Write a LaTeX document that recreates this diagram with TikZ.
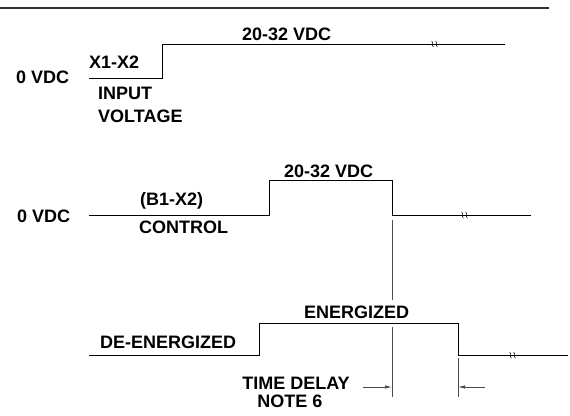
\documentclass[tikz,border=0pt]{standalone}
\usepackage{fontspec}
\setmainfont{Liberation Sans}
\usetikzlibrary{arrows.meta}
\tikzset{
  wave/.style={line width=0.9pt},
  guide/.style={line width=0.8pt, black!70},
  lbl/.style={font=\bfseries\fontsize{18}{18}\selectfont, inner sep=0pt, anchor=base west},
  brkmark/.pic={
    \draw[line width=0.5pt] (-3.5,-3) .. controls (-1,-2) and (-4,2) .. (-1.5,3);
    \draw[line width=0.5pt] (0.5,-3) .. controls (3,-2) and (0,2) .. (2.5,3);
  }
}
\begin{document}
\begin{tikzpicture}[x=1pt, y=-1pt]
  \useasboundingbox (0,0) rectangle (570,415);

  % frame rule
  \coordinate (ruleL) at (0,8);
  \coordinate (ruleR) at (549,8);
  \draw[line width=1.1pt, black!80] (ruleL) -- (ruleR);

  % input voltage
  \coordinate (inA) at (89,78);
  \coordinate (inB) at (162,78);
  \coordinate (inC) at (162,44);
  \coordinate (inD) at (505,44);
  \draw[wave] (inA) -- (inB) -- (inC) -- (inD);
  \pic at (435,44) {brkmark};
  \node[lbl] (inLow) at (16,83) {0 VDC};
  \node[lbl] (inTerm) at (89,68) {X1-X2};
  \node[lbl] (inName) at (98,99) {INPUT};
  \node[lbl] (inName2) at (98,122) {VOLTAGE};
  \node[lbl] (inHigh) at (242,40) {20-32 VDC};

  % control
  \coordinate (ctA) at (89,215);
  \coordinate (ctB) at (269,215);
  \coordinate (ctC) at (269,180);
  \coordinate (ctD) at (392,180);
  \coordinate (ctE) at (392,215);
  \coordinate (ctF) at (531,215);
  \draw[wave] (ctA) -- (ctB) -- (ctC) -- (ctD) -- (ctE) -- (ctF);
  \pic at (465,215) {brkmark};
  \node[lbl] (ctLow) at (17,222) {0 VDC};
  \node[lbl] (ctTerm) at (140,205) {(B1-X2)};
  \node[lbl] (ctName) at (139,233) {CONTROL};
  \node[lbl] (ctHigh) at (284,177) {20-32 VDC};

  % output
  \coordinate (otA) at (89,355);
  \coordinate (otB) at (259,355);
  \coordinate (otC) at (259,323);
  \coordinate (otD) at (458,323);
  \coordinate (otE) at (458,355);
  \coordinate (otF) at (568,355);
  \draw[wave] (otA) -- (otB) -- (otC) -- (otD) -- (otE) -- (otF);
  \pic at (513,355) {brkmark};
  \node[lbl] (otLow) at (100,348) {DE-ENERGIZED};
  \node[lbl] (otHigh) at (304,318) {ENERGIZED};

  % time delay
  \coordinate (gdA) at (392,220);
  \coordinate (gdB) at (392,300);
  \coordinate (gdC) at (392,327);
  \coordinate (gdD) at (392,397);
  \coordinate (gdE) at (458,358);
  \coordinate (gdF) at (458,397);
  \draw[guide] (gdA) -- (gdB);
  \draw[guide] (gdC) -- (gdD);
  \draw[guide] (gdE) -- (gdF);
  \coordinate (tdL) at (363,387);
  \coordinate (tdLe) at (392,387);
  \coordinate (tdR) at (485,387);
  \coordinate (tdRe) at (458,387);
  \draw[guide, -{Latex[length=7pt, width=3.5pt]}] (tdL) -- (tdLe);
  \draw[guide, -{Latex[length=7pt, width=3.5pt]}] (tdR) -- (tdRe);
  \node[lbl, anchor=base] (tdName) at (296,389) {TIME DELAY};
  \node[lbl, anchor=base] (tdNote) at (290,407) {NOTE 6};
\end{tikzpicture}
\end{document}
